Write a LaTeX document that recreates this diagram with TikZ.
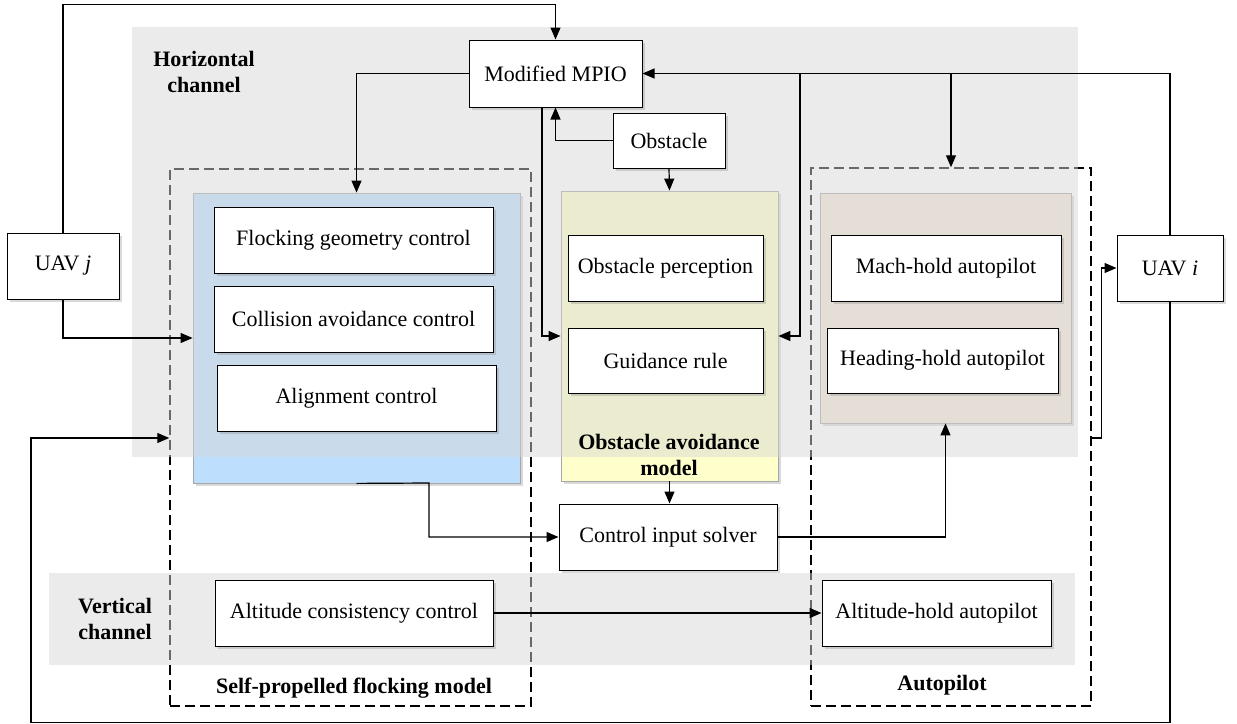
\documentclass[tikz,border=0pt]{standalone}
\usepackage{fontspec}
\setmainfont{Liberation Serif}
\usetikzlibrary{arrows.meta,shadows}
\definecolor{flockblue}{RGB}{189,222,253}
\definecolor{obsyellow}{RGB}{255,255,204}
\definecolor{apbrown}{RGB}{245,230,214}
\definecolor{changray}{RGB}{214,214,214}
\begin{document}
\begin{tikzpicture}[x=0.5pt,y=-0.5pt,
  every node/.style={font=\fontsize{11}{13}\selectfont},
  blk/.style={draw, fill=white, line width=0.5pt, inner sep=2pt,
    drop shadow={shadow xshift=1.5pt,shadow yshift=-1.5pt,opacity=0.3}},
  bg/.style={draw=gray!70, line width=0.4pt,
    drop shadow={shadow xshift=1.5pt,shadow yshift=-1.5pt,opacity=0.3}},
  grp/.style={draw, dash pattern=on 5pt off 2.5pt, line width=0.75pt},
  chan/.style={fill=changray, fill opacity=0.485},
  arr/.style={draw, line width=0.6pt, -{Triangle[length=6pt,width=5pt]}},
  lbl/.style={font=\fontsize{11}{13}\selectfont\bfseries, align=center}]
\useasboundingbox (0,0) rectangle (1237,723);

\node[bg, fill=flockblue, minimum width=163.5pt, minimum height=145pt] (flockbg) at (356.5,338) {};
\node[bg, fill=obsyellow, minimum width=108.5pt, minimum height=145pt] (obsbg) at (669.5,336) {};
\node[bg, fill=apbrown, minimum width=125.5pt, minimum height=115pt] (apbg) at (945.5,308) {};

\node[grp, minimum width=180.5pt, minimum height=268.5pt] (fmbox) at (350.5,437.5) {};
\node[grp, minimum width=140pt, minimum height=269pt] (apbox) at (951,437) {};

\node[chan, minimum width=473pt, minimum height=215pt] (hchan) at (605,242) {};
\node[chan, minimum width=513pt, minimum height=46pt] (vchan) at (562,619) {};

\node[blk, minimum width=56pt, minimum height=33pt] (uavj) at (63,266) {UAV \textit{j}};
\node[blk, minimum width=86.5pt, minimum height=33.5pt] (mpio) at (555.5,73.5) {Modified MPIO};
\node[blk, minimum width=56pt, minimum height=27.5pt] (obst) at (669,140.5) {Obstacle};
\node[blk, minimum width=139.5pt, minimum height=33pt] (flock) at (353.5,240) {Flocking geometry control};
\node[blk, minimum width=139.5pt, minimum height=33pt] (coll) at (353.5,319) {Collision avoidance control};
\node[blk, minimum width=139.5pt, minimum height=33pt] (align) at (356.5,398) {Alignment control};
\node[blk, minimum width=97.5pt, minimum height=33pt] (perc) at (665.5,268) {Obstacle perception};
\node[blk, minimum width=97.5pt, minimum height=32.5pt] (guide) at (665.5,360.5) {Guidance rule};
\node[blk, minimum width=115pt, minimum height=33pt] (mach) at (946,268) {Mach-hold autopilot};
\node[blk, minimum width=115.5pt, minimum height=32.5pt] (head) at (942.5,360.5) {Heading-hold autopilot};
\node[blk, minimum width=53pt, minimum height=33pt] (uavi) at (1170,268) {UAV \textit{i}};
\node[blk, minimum width=109pt, minimum height=33pt] (cis) at (668,537) {Control input solver};
\node[blk, minimum width=139pt, minimum height=33pt] (altc) at (354,613) {Altitude consistency control};
\node[blk, minimum width=114.5pt, minimum height=33pt] (alth) at (936.5,613) {Altitude-hold autopilot};

\path[arr] (uavj.north) -- ++(0,-228) -| (mpio.north);
\path[arr] (mpio.west) -| (flockbg.north);
\path[arr] (mpio.south -| 542,0) |- (obsbg.west |- 0,336);
\path[arr] (obst.west) -| (mpio.south);
\path[arr] (obst.south) -- (obsbg.north);
\path[arr] (uavi.north) |- (mpio.east);
\path[arr] (apbox.north |- mpio.east) -- (apbox.north);
\path[arr] (800,73.5) |- (obsbg.east |- 0,336);
\path[arr] (obsbg.south) -- (cis.north -| obsbg.south);
\path[arr] (flockbg.south) -- (429,483) |- (cis.west);
\path[arr] (cis.east) -| (apbg.south);
\path[arr] (altc) -- (alth);
\path[arr] (apbox.east |- 0,438) -- ++(10,0) |- (uavi.west);
\path[arr] (uavi.south) -- ++(0,421) -| (31,438) -- (fmbox.west |- 0,438);
\path[arr] (uavj.south) |- (flockbg.west);

\node[lbl] (hlbl) at (204,72) {Horizontal\\channel};
\node[lbl] (vlbl) at (115,619) {Vertical\\channel};
\node[lbl] (olbl) at (669,455) {Obstacle avoidance\\model};
\node[lbl] (flbl) at (354,688) {Self-propelled flocking model};
\node[lbl] (albl) at (942,685) {Autopilot};
\end{tikzpicture}
\end{document}
